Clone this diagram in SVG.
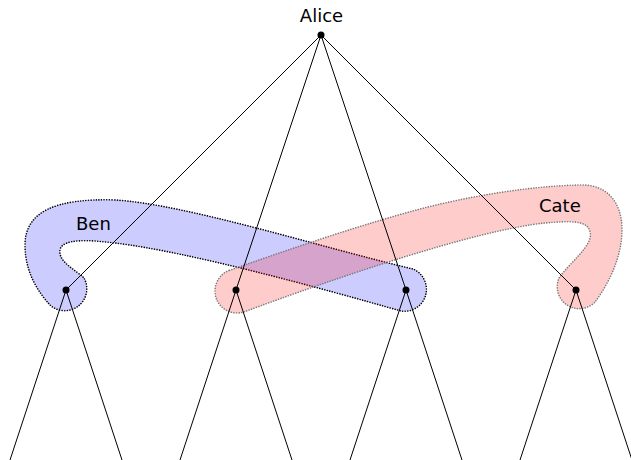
<svg xmlns="http://www.w3.org/2000/svg" width="631" height="460" viewBox="0 0 631 460">
  <style>
    .edge { stroke: #000; stroke-width: 1; fill: none; }
    .dot { fill: #000; }
    .label { font-family: "DejaVu Sans", "Liberation Sans", sans-serif; font-size: 18px; fill: #000; }
    .infoset { stroke-width: 1.6; stroke-dasharray: 0.01 2.6; stroke-linecap: round; }
    .set-ben { fill: #0000ff; fill-opacity: 0.2; stroke: #000; }
    .set-cate { fill: #ff0000; fill-opacity: 0.2; stroke: #7a7a7a; }
  </style>

  <!-- information sets -->
  <g id="infoset-ben">
    <path class="infoset set-ben" d="M115,200 C185,204 320,247 413,269 A22,22 0 0 1 401,311 C320,288 190,252 115,243 C90,240 62,238 60,250 C58,262 76,270 84,278 A22,22 0 0 1 50,305 C38,292 25,272 25,245 C25,212 55,198 115,200 Z"/>
    <text class="label" x="76" y="230">Ben</text>
  </g>
  <g id="infoset-cate">
    <path class="infoset set-cate" d="M229.5,270.3 C290,249 360,225 420,209 C470,196 530,186 580,185 C605,184 622,200 622,230 C622,255 610,282 595,302 A22,22 0 0 1 559,278 C570,262 594,245 590,232 C588,220 570,221 545,223 C475,230 330,280 244.5,311.7 A22,22 0 0 1 229.5,270.3 Z"/>
    <text class="label" x="539" y="212">Cate</text>
  </g>

  <!-- tree edges -->
  <g id="edges">
    <line class="edge" x1="321" y1="35" x2="66" y2="290"/>
    <line class="edge" x1="321" y1="35" x2="236" y2="290"/>
    <line class="edge" x1="321" y1="35" x2="406" y2="290"/>
    <line class="edge" x1="321" y1="35" x2="576" y2="290"/>
    <line class="edge" x1="66" y1="290" x2="10" y2="460"/>
    <line class="edge" x1="66" y1="290" x2="122" y2="460"/>
    <line class="edge" x1="236" y1="290" x2="180" y2="460"/>
    <line class="edge" x1="236" y1="290" x2="292" y2="460"/>
    <line class="edge" x1="406" y1="290" x2="350" y2="460"/>
    <line class="edge" x1="406" y1="290" x2="462" y2="460"/>
    <line class="edge" x1="576" y1="290" x2="520" y2="460"/>
    <line class="edge" x1="576" y1="290" x2="632" y2="460"/>
  </g>

  <!-- decision nodes -->
  <g id="alice">
    <circle class="dot" cx="321" cy="35" r="3.5"/>
    <text class="label" x="321.5" y="22" text-anchor="middle">Alice</text>
  </g>
  <g id="ben-1"><circle class="dot" cx="66" cy="290" r="3.5"/></g>
  <g id="cate-1"><circle class="dot" cx="236" cy="290" r="3.5"/></g>
  <g id="ben-2"><circle class="dot" cx="406" cy="290" r="3.5"/></g>
  <g id="cate-2"><circle class="dot" cx="576" cy="290" r="3.5"/></g>
</svg>
